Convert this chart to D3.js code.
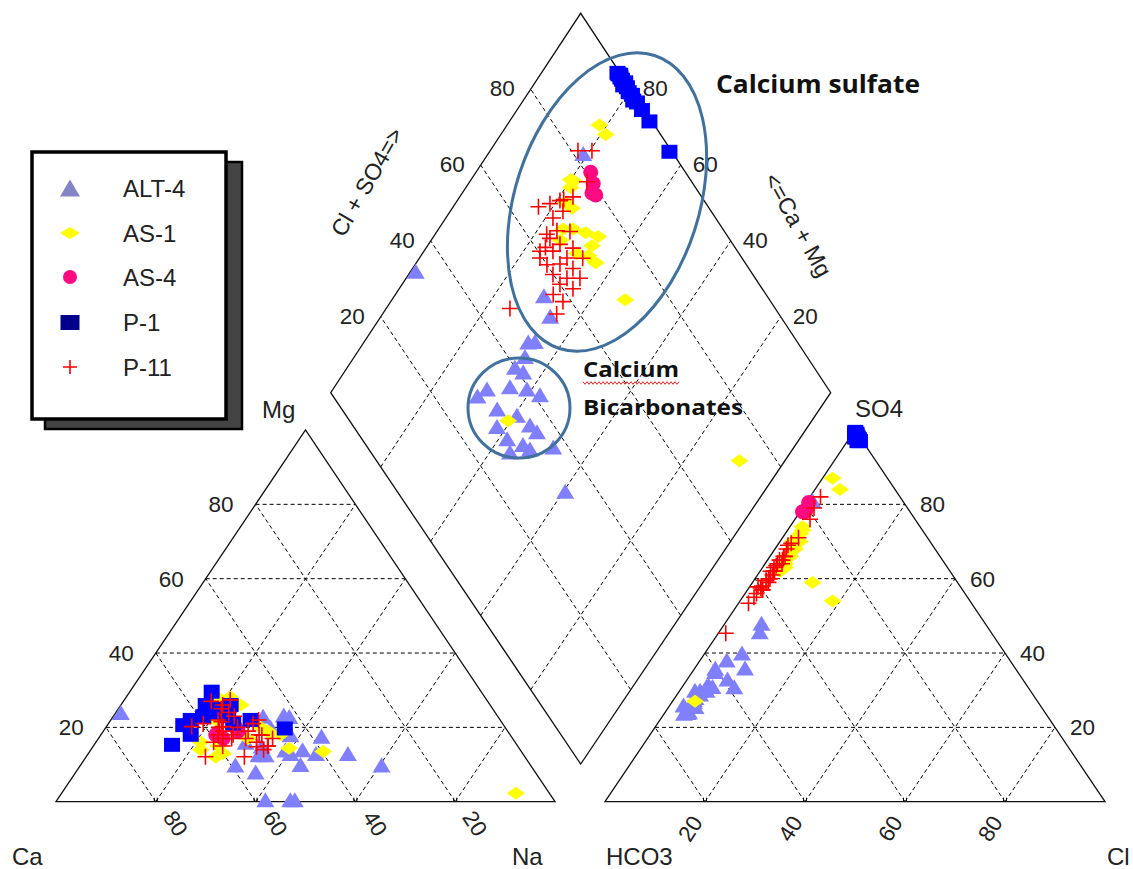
<!DOCTYPE html>
<html>
<head>
<meta charset="utf-8">
<script src="https://cdn.jsdelivr.net/npm/d3@7"></script>
<style>
  body { margin: 0; background: #fff; }
  svg { display: block; }
  text { font-family: "Liberation Sans", Arial, sans-serif; fill: #222; }
  .note { font-family: "Open Sans", sans-serif; font-weight: bold; fill: #111; }
</style>
</head>
<body>
<div id="chart"></div>
<script>
// Sample compositions in meq %: [Mg, Na, SO4, Cl]
// Ca = 100 - Mg - Na ; HCO3 = 100 - SO4 - Cl
var alt4 = [
    [24, 1, 30, 3], [23, 30, 48, 7.3], [23.3, 34, 45.7, 8.1], [12.6, 34.3, 40, 7.4], [13, 34.3, 38.1, 5.3],
    [15, 33.7, 35.9, 4.1], [9.9, 31, 27.5, 4], [22.9, 35.3, 31.4, 5], [13.9, 39, 35, 4.5], [14, 42.4, 30.9, 10.4],
    [12.6, 35.7, 25.6, 5.3], [13, 40.5, 30, 4], [17.6, 44.4, 30, 5.3], [0.5, 46.7, 31, 4.8], [0.5, 41.7, 24.2, 4.7],
    [13, 45.6, 27, 4.3], [10, 44, 23.8, 3.9], [0.5, 47.6, 28, 4.1], [13, 52, 31, 6], [9.9, 60.3, 29, 4.5],
    [23, 19, 81, 1], [16, 30, 26, 2.7], [18, 38, 24, 4.5], [20, 33, 36, 10], [8, 36, 33, 8]
];
var as1 = [
    [28, 18.5, 87, 2], [22, 21, 84, 5], [26, 20, 73, 3], [14.4, 39.5, 27, 4.5], [13.5, 46.8, 59, 12],
    [2.3, 91, 54, 18.5], [18.4, 33.6, 66, 3.5], [18.8, 33, 68, 3.5], [26, 24, 70, 2.5], [28.2, 20.8, 74, 2.5],
    [14, 22, 69, 3], [15, 25, 64, 4], [13, 27, 66, 4], [16, 21, 72, 3], [12, 26, 62, 4],
    [17, 30, 68, 4], [20, 31, 63, 4.5], [19, 33, 70, 4], [18, 36, 66, 4]
];
var as4 = [
    [18, 23, 80.5, 0.5], [17, 25, 79, 1], [19, 27, 78, 1], [20, 26, 78, 0.5]
];
var p1 = [
    [29.6, 16.4, 98.5, 1], [26, 17, 98, 1.5], [25, 19, 99, 0.5], [24, 21, 97.5, 2], [23, 18, 98, 1],
    [22, 16, 99.5, 0.3], [20.6, 15.2, 97, 2.5], [15.3, 15.6, 98.5, 1], [18, 18, 99, 0.8], [23, 23, 98, 1.5],
    [21, 25, 97.5, 2], [22, 28, 98.5, 1], [19.7, 36, 99, 0.5], [24, 20, 98, 1.2], [26, 22, 97, 2]
];
var p11 = [
    [27, 17.6, 79, 2.3], [26, 20.4, 82, 2.1], [21, 19, 66, 2.7], [25, 20.6, 69, 2.1], [20, 22.7, 71, 3.2],
    [18, 23.5, 76, 3], [22, 21.5, 65, 2.4], [24, 22.6, 68, 2.3], [19, 24, 64, 2.5], [17, 26.7, 66, 3],
    [16, 23.6, 62, 2.1], [20, 26.4, 63, 2.3], [20.2, 23.3, 58, 2.4], [15, 25.9, 60, 3], [17, 29.5, 64, 3.4],
    [22, 29.6, 62, 2.9], [14.8, 32.8, 65, 3], [18, 26.5, 57, 3], [19, 29, 60, 2.7], [16, 32.2, 62, 2.7],
    [21, 29, 57.5, 2.4], [17.9, 32.3, 59, 3.2], [15, 34.9, 62, 2.8], [18, 31.7, 57, 3], [17, 34.9, 59.5, 2.5],
    [12.1, 31.7, 55, 2.3], [14, 34.6, 56, 2.3], [17, 24.9, 45.3, 1.5], [15, 35, 53.4, 2], [23, 24.2, 57.8, 1.7],
    [21.5, 22.4, 61, 3], [20.2, 17.1, 63.5, 2.5], [12.1, 23.9, 59.5, 2.5], [27.4, 21.2, 69.5, 2.5]
];

var seriesNames = ['ALT-4', 'AS-1', 'AS-4', 'P-1', 'P-11'];
var seriesData = [alt4, as1, as4, p1, p11];
var tickValues = [20, 40, 60, 80];

var W = 1133, H = 869;
var svg = d3.select('#chart').append('svg').attr('width', W).attr('height', H);
svg.append('rect').attr('width', W).attr('height', H).attr('fill', '#fff');

// ---- geometry ----
var catGeo = {left: 56, right: 555, base: 801.7, apex: 430};
var aniGeo = {left: 605, right: 1105, base: 801.7, apex: 430};
var dia = {bottom: [580.7, 764], right: [830.7, 392.7], left: [330.7, 392.7], top: [580.7, 13.3]};

function triScales(g) {
    return {
        x: d3.scaleLinear().domain([0, 100]).range([g.left, g.right]),
        y: d3.scaleLinear().domain([0, 100]).range([g.base, g.apex])
    };
}
var cat = triScales(catGeo), ani = triScales(aniGeo);

// point in a ternary: top component + right component
function triPoint(sc, top, right) {
    return [sc.x(right + top / 2), sc.y(top)];
}

// diamond: s = SO4 + Cl (%), t = Ca + Mg (%)
var sLower = d3.scaleLinear().domain([0, 100]).range([dia.bottom, dia.right]);
var sUpper = d3.scaleLinear().domain([0, 100]).range([dia.left, dia.top]);
function diaPoint(s, t) {
    return d3.interpolateArray(sLower(s), sUpper(s))(t / 100);
}

var line = d3.line();

// ---- frames and grids ----
function drawTriangle(sc) {
    var g = svg.append('g');
    tickValues.forEach(function (k) {
        [[triPoint(sc, k, 0), triPoint(sc, k, 100 - k)],
         [triPoint(sc, 0, k), triPoint(sc, 100 - k, k)],
         [triPoint(sc, 0, 100 - k), triPoint(sc, 100 - k, 0)]].forEach(function (seg) {
            g.append('path').attr('d', line(seg))
                .attr('stroke', '#000').attr('stroke-width', 1)
                .attr('stroke-dasharray', '4,3').attr('fill', 'none');
        });
        // small double tick on the base
        var bx = sc.x(k), by = sc.y(0);
        [-1.5, 1.5].forEach(function (o) {
            g.append('line').attr('x1', bx + o).attr('x2', bx + o)
                .attr('y1', by - 4).attr('y2', by)
                .attr('stroke', '#000').attr('stroke-width', 1);
        });
    });
    g.append('path')
        .attr('d', line([triPoint(sc, 0, 0), triPoint(sc, 0, 100), triPoint(sc, 100, 0)]) + 'Z')
        .attr('fill', 'none').attr('stroke', '#111').attr('stroke-width', 1.3);
}
drawTriangle(cat);
drawTriangle(ani);

var dg = svg.append('g');
tickValues.forEach(function (k) {
    [[diaPoint(k, 0), diaPoint(k, 100)], [diaPoint(0, k), diaPoint(100, k)]].forEach(function (seg) {
        dg.append('path').attr('d', line(seg))
            .attr('stroke', '#000').attr('stroke-width', 1)
            .attr('stroke-dasharray', '4,3').attr('fill', 'none');
    });
});
dg.append('path')
    .attr('d', line([dia.bottom, dia.right, dia.top, dia.left]) + 'Z')
    .attr('fill', 'none').attr('stroke', '#111').attr('stroke-width', 1.3);

// ---- tick labels ----
var tl = svg.append('g').style('font-size', '22.5px');
tickValues.forEach(function (k) {
    // Mg, left edge of cation triangle
    var p = triPoint(cat, k, 0);
    tl.append('text').attr('x', p[0] - 22).attr('y', p[1] + 8).attr('text-anchor', 'end').text(k);
    // SO4, right edge of anion triangle
    p = triPoint(ani, k, 100 - k);
    tl.append('text').attr('x', p[0] + 15).attr('y', p[1] + 8).text(k);
    // Ca along cation base (rotated)
    var bx = cat.x(100 - k);
    tl.append('text').attr('transform', 'translate(' + (bx + 13) + ',' + 813 + ') rotate(57)')
        .attr('dy', '0.35em').text(k);
    // Cl along anion base (rotated)
    bx = ani.x(k);
    tl.append('text').attr('transform', 'translate(' + (bx - 8) + ',' + 818 + ') rotate(-57)')
        .attr('dy', '0.35em').attr('text-anchor', 'end').text(k);
    // diamond: Cl + SO4 on upper-left edge, Ca + Mg on upper-right edge
    p = diaPoint(k, 100);
    tl.append('text').attr('x', p[0] - 16).attr('y', p[1] + 7).attr('text-anchor', 'end').text(k);
    p = diaPoint(100, k);
    tl.append('text').attr('x', p[0] + 12).attr('y', p[1] + 7).text(k);
});

// corner and axis labels
var cl = svg.append('g').style('font-size', '24px');
[['Ca', 12, 865], ['Na', 512, 865], ['Mg', 262, 418],
 ['HCO3', 606, 865], ['Cl', 1107, 865], ['SO4', 855, 417]].forEach(function (d) {
    cl.append('text').attr('x', d[1]).attr('y', d[2]).text(d[0]);
});
cl.append('text').attr('transform', 'translate(367,182) rotate(-60)')
    .attr('text-anchor', 'middle').attr('dy', '0.35em').style('font-size', '23px').text('Cl + SO4=>');
cl.append('text').attr('transform', 'translate(798,225) rotate(61)')
    .attr('text-anchor', 'middle').attr('dy', '0.35em').style('font-size', '23px').text('<=Ca + Mg');

// ---- symbols ----
function shapePath(kind, sz) {
    var p = d3.path(), w = sz[0] / 2, h = sz[1] / 2;
    if (kind === 'triangle') {
        p.moveTo(0, -h); p.lineTo(w, h); p.lineTo(-w, h); p.closePath();
    } else if (kind === 'diamond') {
        p.moveTo(-w, 0); p.lineTo(0, -h); p.lineTo(w, 0); p.lineTo(0, h); p.closePath();
    } else if (kind === 'circle') {
        p.ellipse ? p.ellipse(0, 0, w, h, 0, 0, 2 * Math.PI) : p.arc(0, 0, w, 0, 2 * Math.PI);
    } else if (kind === 'square') {
        p.rect(-w, -h, 2 * w, 2 * h);
    } else {
        p.moveTo(-w, 0); p.lineTo(w, 0); p.moveTo(0, -h); p.lineTo(0, h);
    }
    return p.toString();
}
var styles = [
    {kind: 'triangle', size: [18, 15], color: '#8080ff', legendColor: '#8585c6', legendSize: [20, 17]},
    {kind: 'diamond', size: [18, 13], color: '#ffff00', legendColor: '#ffff00', legendSize: [20, 12]},
    {kind: 'circle', size: [15, 14], color: '#ff0a82', legendColor: '#ff0a82', legendSize: [14, 12]},
    {kind: 'square', size: [16, 14], color: '#0000ff', legendColor: '#00008b', legendSize: [19, 15]},
    {kind: 'plus', size: [16, 16], color: '#ff0000', legendColor: '#ff0000', legendSize: [14, 14]}
];

function drawMark(g, st, x, y, color, size) {
    var path = g.append('path').attr('d', shapePath(st.kind, size))
        .attr('transform', 'translate(' + x + ',' + y + ')');
    if (st.kind === 'plus') {
        path.attr('fill', 'none').attr('stroke', color).attr('stroke-width', 1.6);
    } else {
        path.attr('fill', color).attr('stroke', 'none');
    }
}

var marks = svg.append('g');
seriesData.forEach(function (data, i) {
    var st = styles[i];
    var g = marks.append('g').attr('class', 'series-' + seriesNames[i]);
    data.forEach(function (d) {
        var mg = d[0], na = d[1], so4 = d[2], chl = d[3];
        var pc = triPoint(cat, mg, na);
        var pa = triPoint(ani, so4, chl);
        var pd = diaPoint(so4 + chl, 100 - na);
        [pc, pa, pd].forEach(function (p) {
            drawMark(g, st, p[0], p[1], st.color, st.size);
        });
    });
});

// ---- annotations ----
var ann = svg.append('g');
ann.append('ellipse').attr('cx', 607).attr('cy', 202).attr('rx', 92).attr('ry', 154)
    .attr('transform', 'rotate(18,607,202)')
    .attr('fill', 'none').attr('stroke', '#41719c').attr('stroke-width', 3);
ann.append('ellipse').attr('cx', 519).attr('cy', 408).attr('rx', 51).attr('ry', 50)
    .attr('fill', 'none').attr('stroke', '#41719c').attr('stroke-width', 3);
ann.append('text').attr('class', 'note').attr('x', 716).attr('y', 93)
    .attr('textLength', 204).attr('lengthAdjust', 'spacingAndGlyphs')
    .style('font-size', '25px').text('Calcium sulfate');
ann.append('text').attr('class', 'note').attr('x', 583).attr('y', 377)
    .attr('textLength', 96).attr('lengthAdjust', 'spacingAndGlyphs')
    .style('font-size', '21px').text('Calcium');
ann.append('text').attr('class', 'note').attr('x', 583).attr('y', 415)
    .attr('textLength', 160).attr('lengthAdjust', 'spacingAndGlyphs')
    .style('font-size', '21px').text('Bicarbonates');
// spell-check squiggle under "Calcium"
var sq = d3.range(583, 681, 2).map(function (x, i) { return [x, 383 + (i % 2 ? 1.3 : -1.3)]; });
ann.append('path').attr('d', line(sq)).attr('fill', 'none').attr('stroke', '#e02020').attr('stroke-width', 1);

// ---- legend ----
var lg = svg.append('g');
lg.append('rect').attr('x', 45).attr('y', 162).attr('width', 197).attr('height', 267)
    .attr('fill', '#444').attr('stroke', '#000').attr('stroke-width', 2.5);
lg.append('rect').attr('x', 32).attr('y', 152).attr('width', 194).attr('height', 267)
    .attr('fill', '#fff').attr('stroke', '#000').attr('stroke-width', 3.5);
var rowY = [188, 233, 277, 322.5, 367];
seriesNames.forEach(function (name, i) {
    var st = styles[i];
    drawMark(lg, st, 70, rowY[i], st.legendColor, st.legendSize);
    lg.append('text').attr('x', 123).attr('y', rowY[i] + 8.5).style('font-size', '24px').text(name);
});
</script>
</body>
</html>
